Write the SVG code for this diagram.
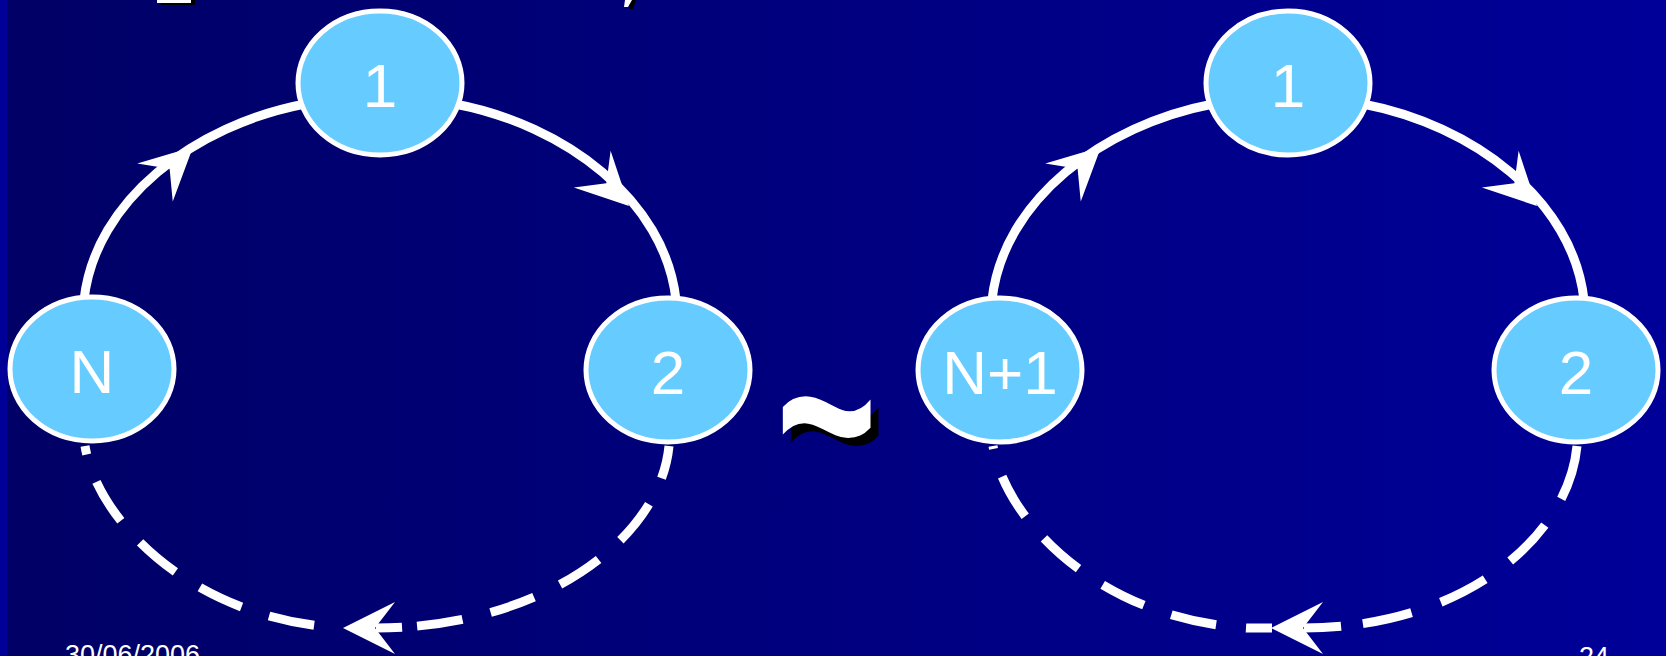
<svg xmlns="http://www.w3.org/2000/svg" width="1666" height="656" viewBox="0 0 1666 656">
<defs>
<linearGradient id="bg" x1="0" y1="0" x2="1" y2="0">
<stop offset="0" stop-color="#000066"/>
<stop offset="1" stop-color="#000099"/>
</linearGradient>
<marker id="ah" markerUnits="userSpaceOnUse" markerWidth="60" markerHeight="60" viewBox="-56 -30 60 60" refX="0" refY="0" orient="auto">
<path d="M0,0 L-52,-26 L-32,0 L-52,26 Z" fill="#ffffff"/>
</marker>
<style>
.node ellipse{fill:#66CCFF;stroke:#ffffff;stroke-width:5}
.node text{font-family:"Liberation Sans",Arial,sans-serif;font-size:62px;fill:#ffffff;text-anchor:middle}
.arc{fill:none;stroke:#ffffff;stroke-width:9}
.ah{fill:none;stroke:none;marker-end:url(#ah)}
.foot{font-family:"Liberation Sans",Arial,sans-serif;font-size:27px;fill:#ffffff}
.tilde{font-family:"Liberation Sans",Arial,sans-serif;font-size:173px;font-weight:bold;text-anchor:middle}
</style>
</defs>
<rect x="0" y="0" width="1666" height="656" fill="url(#bg)"/>
<rect x="0" y="0" width="7" height="656" fill="#000099"/>

<g id="title-fragment">
<rect x="161" y="0" width="34" height="5" fill="#000000"/>
<rect x="157" y="0" width="34" height="3" fill="#ffffff"/>
<polygon points="629,0 636,0 633,9 629,9" fill="#000000"/>
<polygon points="625,0 632,0 628,7 624,7" fill="#ffffff"/>
</g>

<g id="connectors">
<g id="left-connectors">
<path class="arc" d="M84,300 C95,200 195,125 305,104"/>
<path class="ah" d="M155,182.5 L193,147"/>
<path class="arc" d="M455,104 C565,125 665,200 676,300"/>
<path class="ah" d="M592,169 L629,206"/>
<path class="arc" style="stroke-dasharray:26 15 46 29 46 29 46 29 46 29 46 29 46 29" d="M376,628 C540,628 660,540 669,446"/>
<path class="arc" style="stroke-dasharray:46 29;stroke-dashoffset:46" d="M343,628 C192,620 97,520 85,446"/>
<path class="ah" d="M390,628 L343,628"/>
</g>
<g id="right-connectors">
<path class="arc" d="M992,300 C1003,200 1103,125 1213,104"/>
<path class="ah" d="M1063,182.5 L1101,147"/>
<path class="arc" d="M1363,104 C1473,125 1573,200 1584,300"/>
<path class="ah" d="M1500,169 L1537,206"/>
<path class="arc" style="stroke-dasharray:37 22 50 31 50 31 50 31 60 40" d="M1304,628 C1460,628 1568,540 1577,446"/>
<path class="arc" style="stroke-dasharray:26 30 46 29 46 29 46 29 46 29 46 29 46 29" d="M1272,628 L1248,628 C1100,620 1005,520 993,446"/>
<path class="ah" d="M1318,628 L1271,628"/>
</g>
</g>

<g id="node-1-left" class="node"><ellipse cx="380" cy="83" rx="82" ry="72"/><text x="380" y="107">1</text></g>
<g id="node-N" class="node"><ellipse cx="92" cy="369" rx="82" ry="72"/><text x="92" y="393">N</text></g>
<g id="node-2-left" class="node"><ellipse cx="668" cy="370" rx="82" ry="72"/><text x="668" y="394">2</text></g>

<g id="node-1-right" class="node"><ellipse cx="1288" cy="83" rx="82" ry="72"/><text x="1288" y="107">1</text></g>
<g id="node-N1" class="node"><ellipse cx="1000" cy="370" rx="82" ry="72"/><text x="1000" y="394">N+1</text></g>
<g id="node-2-right" class="node"><ellipse cx="1576" cy="370" rx="82" ry="72"/><text x="1576" y="394">2</text></g>

<g id="tilde">
<text class="tilde" transform="translate(834.5,422.5) scale(1,1.52)" x="0" y="59" fill="#000000">~</text>
<text class="tilde" transform="translate(826.5,414.5) scale(1,1.52)" x="0" y="59" fill="#ffffff">~</text>
</g>

<text class="foot" x="65" y="664">30/06/2006</text>
<text class="foot" x="1609" y="666" text-anchor="end">24</text>
</svg>
